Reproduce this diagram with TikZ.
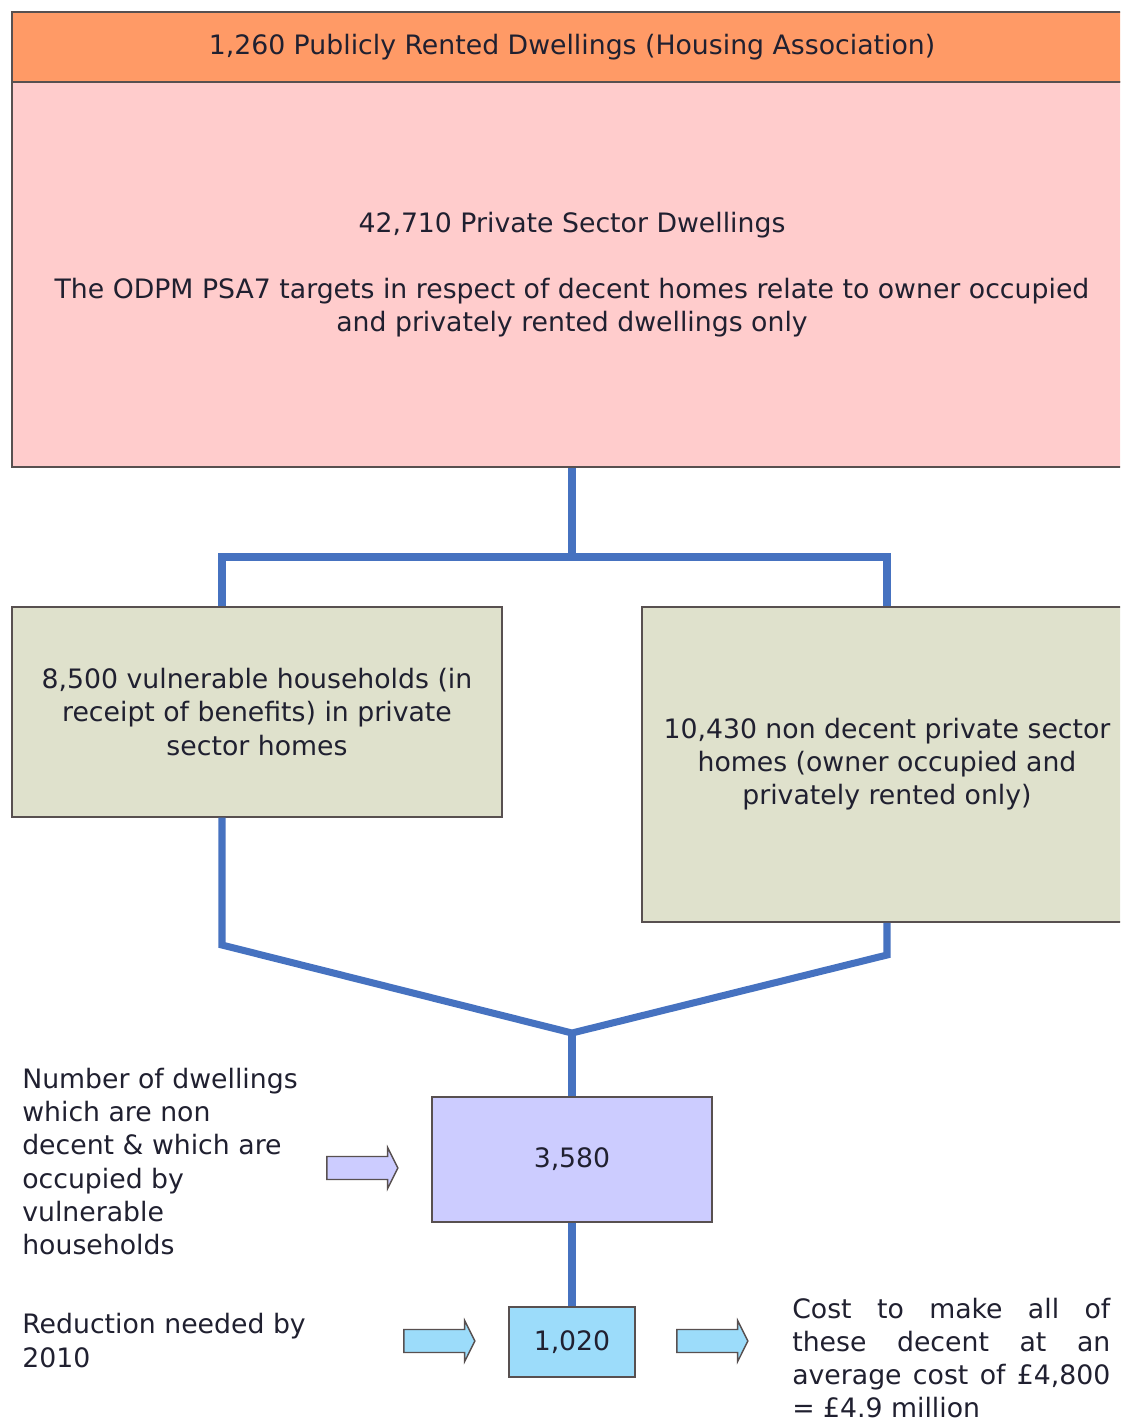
\documentclass[tikz,border=0pt]{standalone}
\usepackage{fontspec}
\setmainfont{DejaVu Sans}
\usetikzlibrary{shapes.arrows}
\definecolor{headorange}{HTML}{FF9A66}
\definecolor{privpink}{HTML}{FFCCCC}
\definecolor{sagegreen}{HTML}{DFE1CC}
\definecolor{lavender}{HTML}{CCCCFF}
\definecolor{skyblue}{HTML}{9CDCFA}
\definecolor{linkblue}{HTML}{4672C0}
\definecolor{boxline}{HTML}{585050}
\definecolor{inktext}{HTML}{202030}
\begin{document}
\begin{tikzpicture}[x=0.025cm,y=-0.025cm,
  font=\fontsize{19}{23.5}\selectfont,text=inktext,
  box/.style={rectangle,draw=boxline,line width=1pt,inner sep=0pt,align=center},
  link/.style={draw=linkblue,line width=5pt},
  fatarrow/.style={single arrow,draw=boxline,line width=1pt,inner sep=0.27cm,
    minimum height=1.775cm,single arrow head extend=0.225cm,single arrow tip angle=127},
  note/.style={inner sep=0pt,align=left}]
  \useasboundingbox (0,0) rectangle (1120,1423);
  \clip (0,0) rectangle (1120,1423);

  \node[box,fill=headorange,minimum width=28cm,minimum height=1.75cm] (public) at (572,47)
    {1,260 Publicly Rented Dwellings (Housing Association)};
  \node[box,fill=privpink,minimum width=28cm,minimum height=9.625cm] (private) at (572,274.5)
    {42,710 Private Sector Dwellings\\[0.825cm]
     The ODPM PSA7 targets in respect of decent homes relate to owner occupied\\
     and privately rented dwellings only};
  \node[box,fill=sagegreen,minimum width=12.25cm,minimum height=5.25cm] (vulnerable) at (257,712)
    {8,500 vulnerable households (in\\ receipt of benefits) in private\\ sector homes};
  \node[box,fill=sagegreen,minimum width=12.25cm,minimum height=7.875cm] (nondecent) at (887,764.5)
    {10,430 non decent private sector\\ homes (owner occupied and\\ privately rented only)};
  \node[box,fill=lavender,minimum width=7cm,minimum height=3.125cm] (both) at (572,1159.5) {3,580};
  \node[box,fill=skyblue,minimum width=3.15cm,minimum height=1.75cm] (reduce) at (572,1342) {1,020};

  % connectors
  \coordinate (fork) at (572,557);
  \coordinate (forkl) at (222,557);
  \coordinate (forkr) at (887,557);
  \coordinate (bendl) at (222,945);
  \coordinate (bendr) at (887,955);
  \coordinate (merge) at (572,1033);
  \draw[link] (private.south) -- (fork);
  \draw[link,line width=6pt] (vulnerable.north -| forkl) -- (forkl) -- (forkr) -- (nondecent.north);
  \draw[link] (vulnerable.south -| bendl) -- (bendl) -- (merge) -- (bendr) -- (nondecent.south);
  \draw[link] (merge) -- (both.north);
  \draw[link] (both.south) -- (reduce.north);

  \node[fatarrow,fill=lavender] (arrowin) at (359.5,1168) {};
  \node[fatarrow,fill=skyblue] (arrowleft) at (436.5,1341) {};
  \node[fatarrow,fill=skyblue] (arrowright) at (709.5,1341) {};

  \node[note,anchor=west] (countnote) at (22,1161.5)
    {Number of dwellings\\ which are non\\ decent \& which are\\ occupied by\\ vulnerable\\ households};
  \node[note,anchor=west] (targetnote) at (22,1340.5) {Reduction needed by\\ 2010};
  \node[note,anchor=west,text width=7.95cm,align=justify] (costnote) at (792,1358)
    {Cost to make all of\linebreak these decent at an\linebreak average cost of £4,800\linebreak = £4.9 million};
\end{tikzpicture}
\end{document}
